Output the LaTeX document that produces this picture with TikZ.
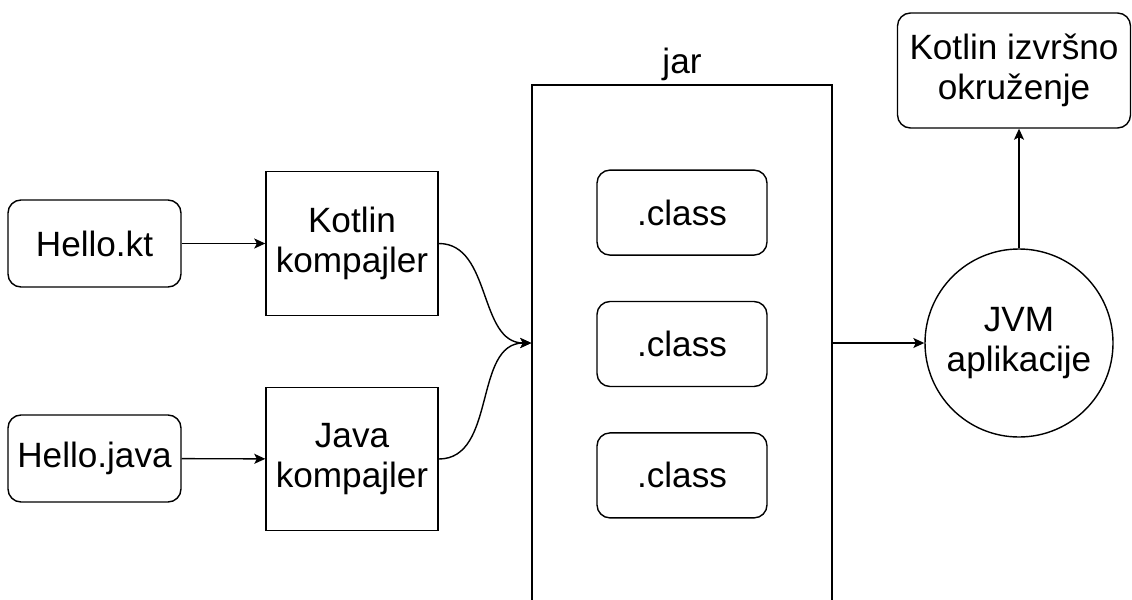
\documentclass[tikz,border=0pt]{standalone}
\usepackage{fontspec}
\setmainfont{Liberation Sans}
\usepackage{tikz}
\usetikzlibrary{shapes.geometric, arrows.meta, positioning, calc}
\tikzstyle{source} = [rectangle, rounded corners=0.26cm, minimum width=3.46cm, minimum height=1.74cm, text centered, draw=black, line width=0.8pt]
\tikzstyle{compiler} = [rectangle, minimum width=3.44cm, minimum height=2.87cm, align=center, draw=black, line width=0.8pt]
\tikzstyle{classfile} = [rectangle, rounded corners=0.26cm, minimum width=3.4cm, minimum height=1.7cm, text centered, draw=black, line width=0.8pt]
\tikzstyle{arrow} = [line width=0.8pt,-{Stealth[length=0.22cm, width=0.2cm, inset=0.05cm]}]

\begin{document}
\begin{tikzpicture}[node distance=3cm, font=\fontsize{20}{23}\selectfont]
    \useasboundingbox (0,0) rectangle (22.64,-11.98);
    % Sources
    \node[source] (hellokt) at (1.89,-4.87) {Hello.kt};
    \node[source] (hellojava) at (1.89,-9.17) {Hello.java};

    % Compilers
    \node[compiler] (kotlinc) at (7.04,-4.87) {Kotlin\\kompajler};
    \node[compiler] (javac) at (7.04,-9.18) {Java\\kompajler};

    % Jar with classes
    \node[rectangle, draw=black, line width=0.8pt, minimum width=6cm, minimum height=10.32cm] (jar) at (13.64,-6.86) {};
    \node[above=-0.06cm of jar.north] (jarlabel) {jar};
    \node[classfile] (class2) at (13.64,-6.88) {.class};
    \node[classfile, above=0.9cm of class2] (class1) {.class};
    \node[classfile, below=0.9cm of class2] (class3) {.class};

    % JVM and runtime
    \node[circle, draw=black, line width=0.8pt, minimum size=3.76cm, align=center] (jvm) at (20.38,-6.86) {JVM\\aplikacije};
    \node[rectangle, rounded corners=0.26cm, draw=black, line width=0.8pt, minimum width=4.66cm, minimum height=2.3cm, align=center] (runtime) at (20.28,-1.41) {Kotlin izvršno\\okruženje};

    % Connections
    \draw[arrow] (hellokt) -- (kotlinc);
    \draw[arrow] (hellojava) -- (javac);
    \draw[arrow] (kotlinc.east) to[out=0, in=180] (jar.west);
    \draw[arrow] (javac.east) to[out=0, in=180] (jar.west);
    \draw[arrow] (jar.east) -- (jvm);
    \draw[arrow] (jvm.north) -- (jvm.north |- runtime.south);

\end{tikzpicture}
\end{document}
